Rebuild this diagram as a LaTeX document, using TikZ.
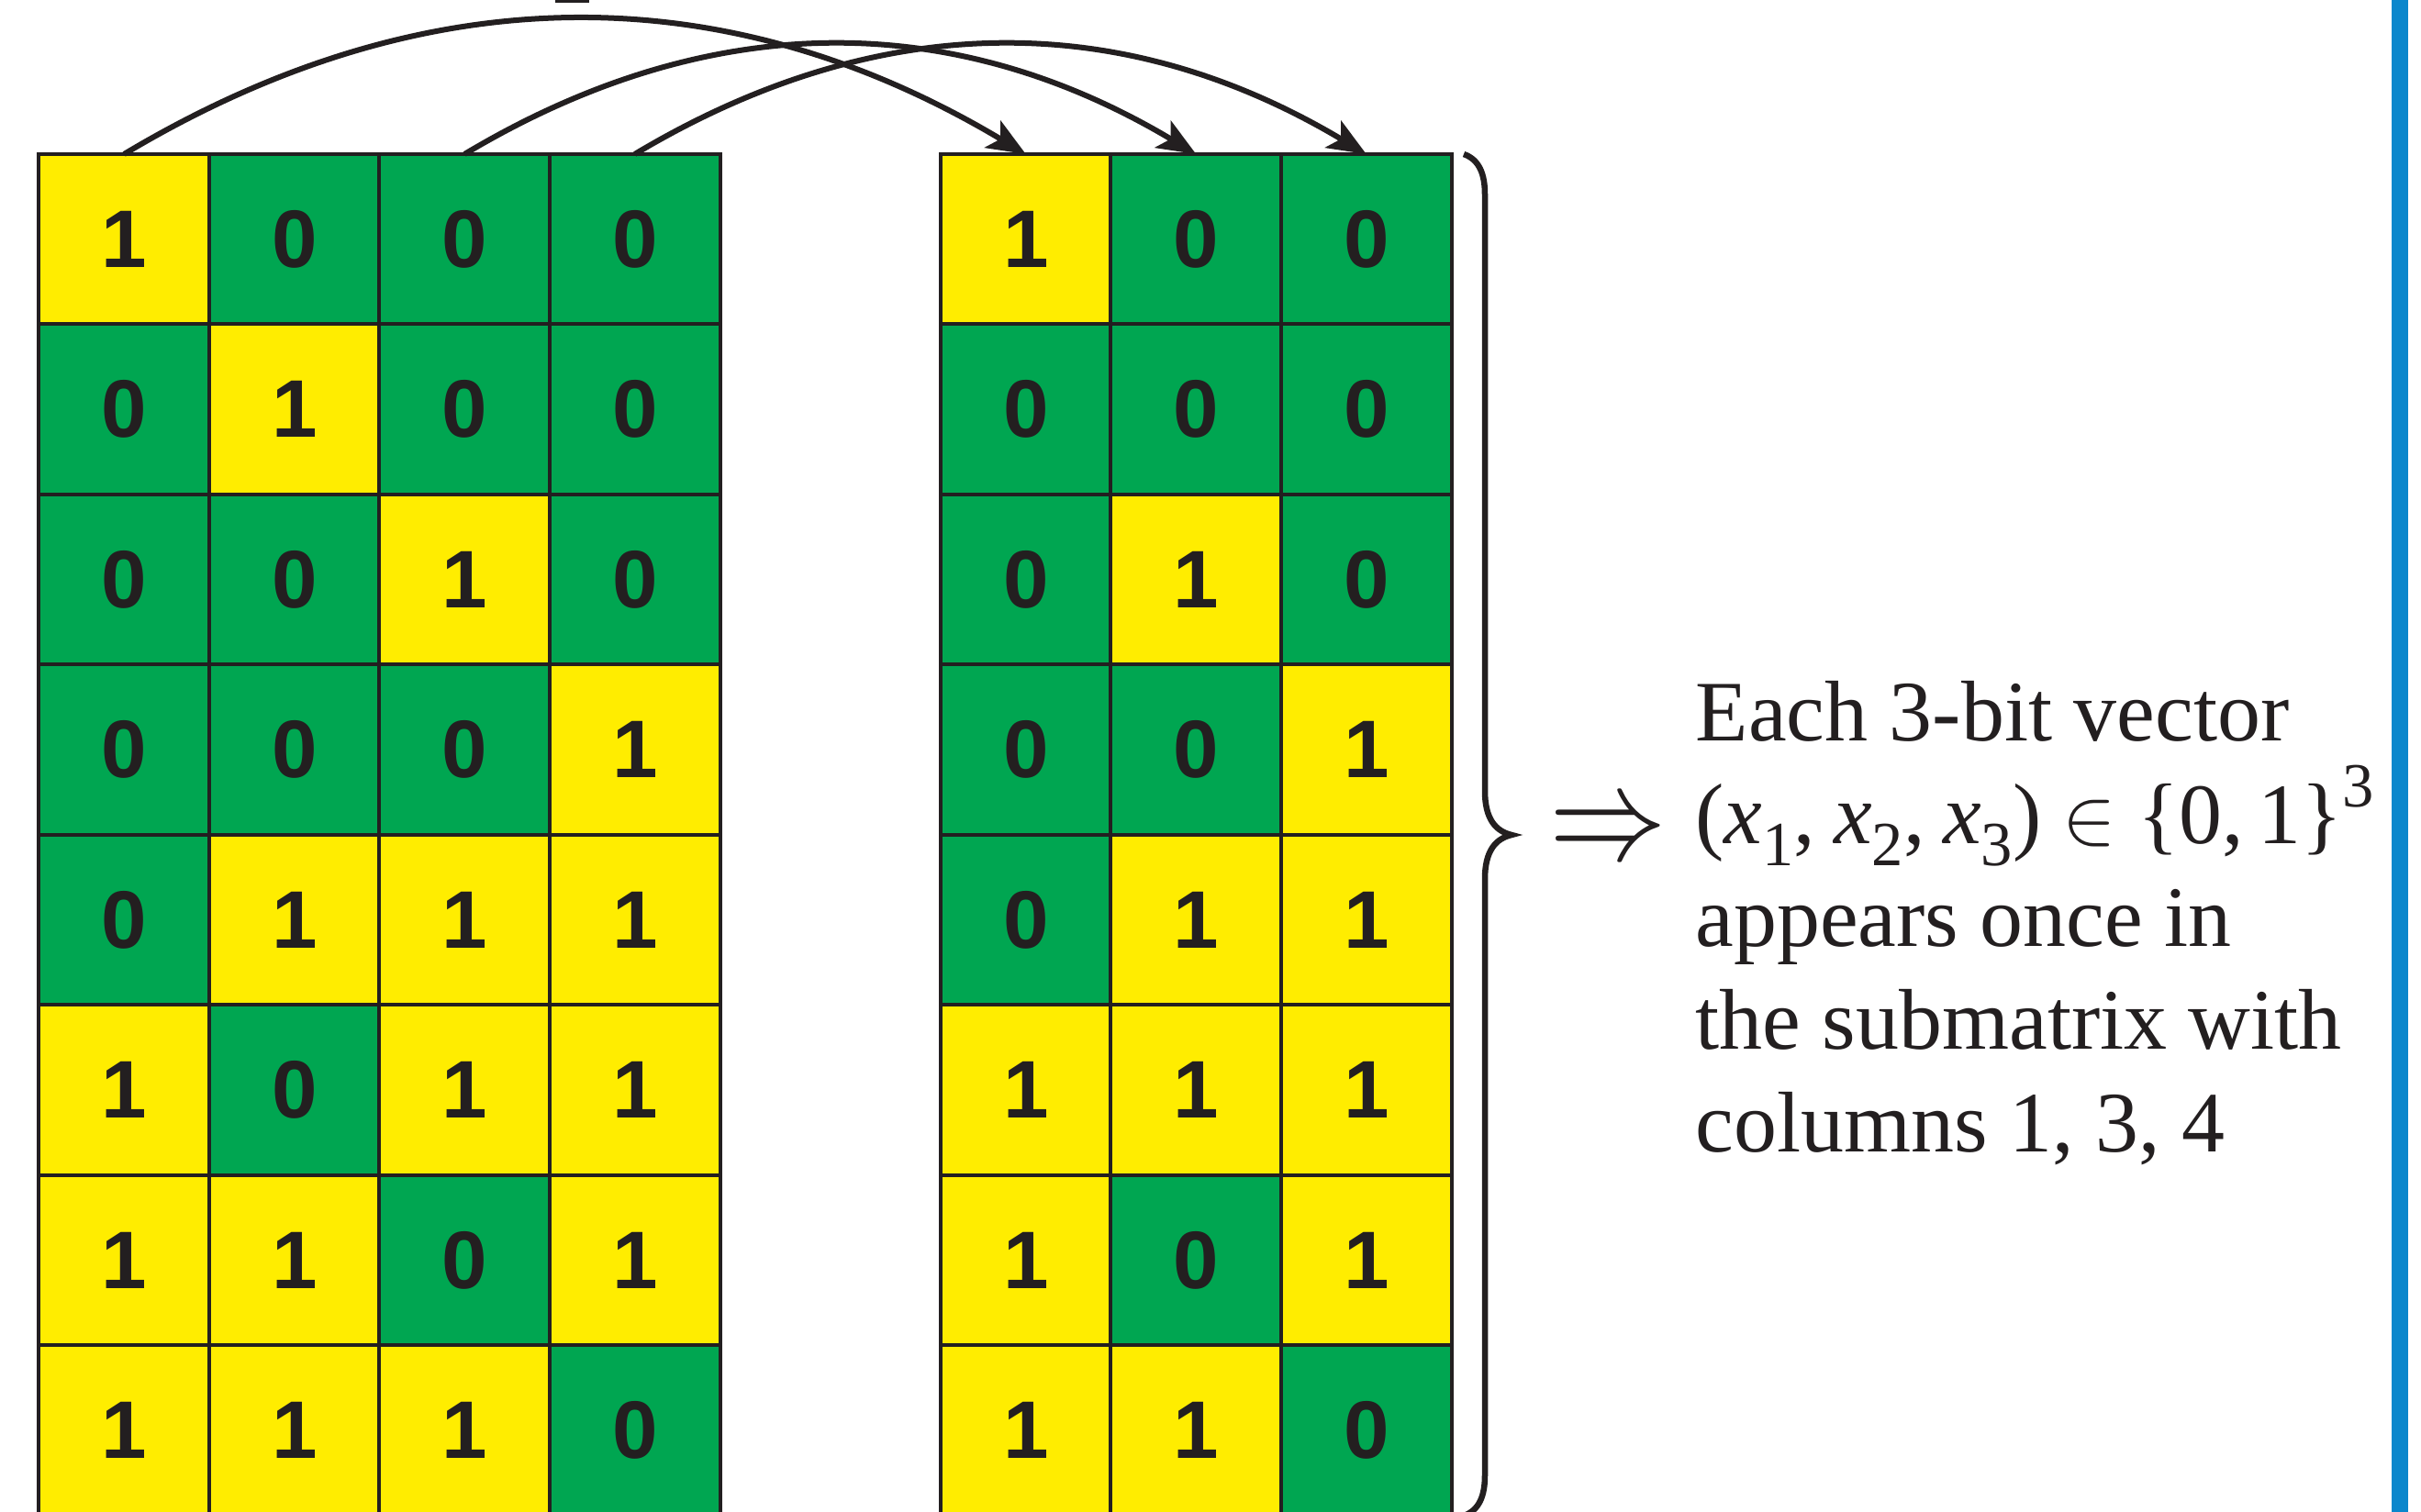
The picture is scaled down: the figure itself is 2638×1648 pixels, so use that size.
\documentclass[tikz,border=0pt]{standalone}
\usepackage{fontspec}
\setmainfont{Liberation Serif}
\newfontfamily\cellfont{Liberation Sans}
\usetikzlibrary{arrows.meta}
\definecolor{ylw}{RGB}{255,237,0}
\definecolor{grn}{RGB}{0,166,81}
\definecolor{ink}{RGB}{35,31,32}
\definecolor{barblue}{RGB}{11,135,204}
\newcommand\mysub[1]{\raisebox{-0.26em}{\fontsize{19.5}{20}\selectfont #1}}
\newcommand\mysup[1]{\raisebox{0.42em}{\fontsize{19.5}{20}\selectfont #1}}
\begin{document}
\begin{tikzpicture}[x=0.01cm,y=-0.01cm,
  cell/.style={draw=ink, line width=0.04cm, minimum width=1.855cm, minimum height=1.855cm,
    inner sep=0pt, outer sep=0pt, font=\cellfont\bfseries\fontsize{25.3}{30}\selectfont, text=ink},
  bit1/.style={cell, fill=ylw},
  bit0/.style={cell, fill=grn},
  link/.style={draw=ink, line width=0.06cm, -{Stealth[length=0.42cm,width=0.34cm,inset=0.1cm]}},
  caption/.style={anchor=base west, inner sep=0pt, font=\fontsize{26.7}{31.8}\selectfont, text=ink},
  bracestyle/.style={draw=ink, line width=0.065cm}]
\useasboundingbox (0,0) rectangle (2638,1648);
\clip (0,0) rectangle (2638,1648);
\fill[white] (0,0) rectangle (2638,1648);
% left matrix
\foreach \row [count=\r] in {{1,0,0,0},{0,1,0,0},{0,0,1,0},{0,0,0,1},{0,1,1,1},{1,0,1,1},{1,1,0,1},{1,1,1,0}} {
  \foreach \v [count=\c] in \row {
    \node[bit\v] (L-\r-\c) at ({42.5+(\c-0.5)*185.5},{168+(\r-0.5)*185.5}) {\v};
  }
}
% right matrix (columns 1, 3, 4)
\foreach \row [count=\r] in {{1,0,0},{0,0,0},{0,1,0},{0,0,1},{0,1,1},{1,1,1},{1,0,1},{1,1,0}} {
  \foreach \v [count=\c] in \row {
    \node[bit\v] (R-\r-\c) at ({1025+(\c-0.5)*185.5},{168+(\r-0.5)*185.5}) {\v};
  }
}
% connectors
\draw[link] (L-1-1.north) .. controls +(327.5,-196) and +(-327.5,-196) .. (R-1-1.north);
\draw[link] (L-1-3.north) .. controls +(265.7,-159) and +(-265.7,-159) .. (R-1-2.north);
\draw[link] (L-1-4.north) .. controls +(265.7,-159) and +(-265.7,-159) .. (R-1-3.north);
% small mark at top edge
\fill[ink] (605,0) rectangle (642,3);
% brace
\draw[bracestyle] (1595,168) .. controls (1612,174) and (1618,190) .. (1618,212) -- (1618,862)
  .. controls (1618,893) and (1630,906) .. (1647,910)
  .. controls (1630,914) and (1618,927) .. (1618,958) -- (1618,1608)
  .. controls (1618,1630) and (1612,1646) .. (1595,1652);
% implication arrow
\node[inner sep=0pt, text=ink, font=\fontsize{24.88}{30}\selectfont] (imp) at (1752,910) {\scalebox{1.46}[1.67]{$\Rightarrow$}};
% caption
\node[caption] (t1) at (1847,807) {Each 3-bit vector};
\node[caption] (t2) at (1847,919) {(\textit{x}\mysub{1},\hspace{0.21em}\textit{x}\mysub{2},\hspace{0.21em}\textit{x}\mysub{3}) $\in$ \{0,\,1\}\mysup{3}};
\node[caption] (t3) at (1847,1031) {appears once in};
\node[caption] (t4) at (1847,1143) {the submatrix with};
\node[caption] (t5) at (1847,1255) {columns 1, 3, 4};
% blue bar
\fill[barblue] (2606,0) rectangle (2624,1648);
\end{tikzpicture}
\end{document}
